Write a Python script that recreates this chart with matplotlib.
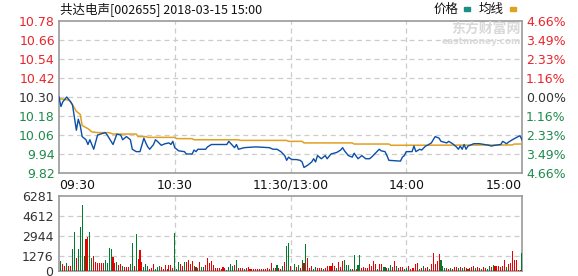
import matplotlib
matplotlib.use("Agg")
import matplotlib.pyplot as plt
import numpy as np
import math

plt.rcParams['font.family'] = ['DejaVu Sans']

# ---------------- data ----------------
title = "共达电声[002655] 2018-03-15 15:00"
prev_close = 10.30
price_ticks = [10.78, 10.66, 10.54, 10.42, 10.30, 10.18, 10.06, 9.94, 9.82]
vol_ticks = [0, 1276, 2944, 4612, 6281]
time_labels = ["09:30", "10:30", "11:30/13:00", "14:00", "15:00"]
time_label_minutes = [0, 60, 120, 180, 240]

price_min = [0, 1, 2, 3, 4, 6, 7, 9, 10, 11, 12, 14, 15, 16, 18, 20, 24, 25, 28, 30,
             32, 33, 35, 37, 38, 40, 42, 44, 45, 46, 47, 49, 50, 51, 53, 55, 57, 58, 59, 60,
             62, 65, 66, 69, 70, 71, 72, 76, 77, 79, 87, 88, 91, 92, 93, 96, 102, 109, 111, 113,
             115, 117, 118, 119, 120, 121, 123, 125, 126, 127, 129, 131, 132, 133, 134, 136, 138, 139, 141, 144,
             146, 147, 148, 150, 152, 153, 155, 157, 159, 161, 162, 164, 166, 167, 169, 170, 171, 177, 178, 179,
             180, 183, 184, 185, 187, 188, 190, 191, 193, 195, 197, 198, 201, 202, 204, 206, 207, 208, 209, 210,
             211, 212, 213, 215, 218, 223, 224, 226, 229, 230, 232, 233, 235, 238, 239, 240]
price_val = [10.30, 10.24, 10.27, 10.285, 10.30, 10.27, 10.25, 10.09, 10.16, 10.12, 10.05, 10.03, 10.00, 10.03, 9.97, 10.06, 10.075, 10.06, 10.00, 10.065,
             10.06, 10.03, 10.05, 10.03, 9.97, 9.955, 9.955, 10.04, 10.01, 9.985, 9.97, 10.00, 10.03, 10.02, 9.995, 10.005, 10.01, 10.00, 10.02, 9.98,
             9.96, 9.955, 9.94, 9.94, 9.965, 9.955, 9.97, 9.97, 9.985, 10.00, 10.00, 10.02, 9.98, 10.00, 9.97, 9.98, 9.985, 9.98, 9.97, 9.97,
             9.955, 9.93, 9.90, 9.92, 9.91, 9.905, 9.905, 9.90, 9.89, 9.855, 9.87, 9.89, 9.91, 9.89, 9.93, 9.91, 9.93, 9.91, 9.94, 9.95,
             9.965, 9.98, 9.96, 9.93, 9.92, 9.945, 9.91, 9.93, 9.91, 9.91, 9.92, 9.945, 9.97, 9.96, 9.955, 9.93, 9.90, 9.895, 9.92, 9.93,
             9.955, 9.955, 9.99, 9.955, 9.97, 9.965, 9.99, 9.995, 10.01, 10.05, 10.04, 10.02, 10.01, 10.02, 10.005, 9.985, 9.97, 9.99, 9.97, 10.00,
             9.97, 9.99, 9.995, 10.005, 10.005, 9.995, 9.99, 9.995, 10.00, 10.02, 10.005, 10.015, 10.03, 10.05, 10.055, 10.03]

avg_min = [0, 5, 6, 9, 11, 12, 15, 17, 20, 26, 28, 40, 41, 45, 46, 60, 61, 69, 70, 93,
           94, 118, 119, 126, 127, 152, 153, 171, 172, 235, 236, 240]
avg_val = [10.29, 10.28, 10.27, 10.21, 10.19, 10.12, 10.10, 10.08, 10.075, 10.075, 10.066, 10.066, 10.05, 10.05, 10.045, 10.045, 10.037, 10.037, 10.03, 10.03,
           10.026, 10.026, 10.02, 10.02, 10.01, 10.01, 10.003, 10.003, 9.995, 9.997, 10.003, 10.003]

# volume per minute (1..240)
vol = [837, 586, 419, 642, 419, 419, 1841, 3292, 1088, 1841, 3711, 5524, 1256, 2678, 2874, 3292, 1088, 1256, 781, 642,
       642, 698, 642, 921, 642, 1953, 1841, 1200, 698, 781, 502, 586, 419, 363, 363, 363, 586, 2316, 419, 3069,
       1004, 1758, 781, 307, 586, 419, 140, 223, 586, 140, 363, 419, 307, 140, 502, 140, 502, 502, 223, 3153,
       140, 781, 586, 419, 781, 781, 921, 586, 865, 419, 307, 223, 781, 363, 307, 502, 1060, 642, 865, 502,
       223, 223, 223, 140, 307, 223, 84, 307, 586, 419, 502, 921, 223, 223, 223, 140, 223, 307, 140, 140,
       140, 140, 140, 140, 140, 140, 140, 223, 195, 642, 223, 223, 502, 223, 140, 419, 781, 2093, 2372, 419,
       60, 586, 307, 502, 223,
       921, 642, 2260, 1088, 223, 419, 140, 307, 223, 223, 223, 140, 223, 419, 419, 419, 698, 419, 223, 781,
       307, 865, 921, 502, 502, 140, 140, 1339, 140, 502, 1339, 223, 307, 223, 223, 586, 419, 865, 586, 140,
       586, 586, 307, 307, 223, 223, 502, 307, 837, 419, 223, 307, 307, 140, 223, 419, 140, 223, 223, 586,
       642, 140, 223, 419, 223, 307, 140, 586, 1479, 586, 837, 1423, 921, 419, 223, 223, 140, 223, 140, 307,
       307, 223, 307, 223, 307, 223, 140, 223, 307, 419, 223, 307, 223, 140, 307, 223, 140, 419, 307, 502,
       419, 419, 419, 307, 419, 921, 307, 586, 642, 1674, 921, 921, 84, 84, 1535]
# 'r' = up minute, 'g' = down minute
vol_dir = ("grrgrrggrg" "gggrrggrrr" "rrrggggrrg" "rrgrrrggrg" "rrrgggrrrg"
           "ggrrrrrrrg" "ggrrgrrrrg" "rgrggrrrrr" "rrrrrrgggg" "rgrrrgrrrr"
           "rrrrrrrrrr" "grgrrgrggr" "ggrgr"
           "grgrrrggrr" "rgrrrrrrgr" "rrggggrgrg" "grrrrrrrrg" "rrggrggrrg"
           "rrrggrrrrr" "rgrgrrgrrr" "rrgggrrgrr" "rgrgrrgrrr" "grrgrrggrg"
           "rrrrrrgrrr" "rrrrg")

# ---------------- figure ----------------
W, H = 578, 276
fig = plt.figure(figsize=(W / 100, H / 100), dpi=100)
fig.patch.set_facecolor("white")

L, R = 59 / W, 522 / W
ax = fig.add_axes([L, 1 - 173 / H, R - L, (173 - 21) / H])
axv = fig.add_axes([L, 1 - 271 / H, R - L, (271 - 196) / H])

spine_c = "#999999"
grid_c = "#cccccc"
red_t = "#e8262b"
green_t = "#1f8a4c"
line_blue = "#0a4fa8"
avg_gold = "#e0a020"

for a in (ax, axv):
    for s in a.spines.values():
        s.set_color(spine_c)
        s.set_linewidth(1.2)
    a.set_xlim(0, 240)
    a.tick_params(length=0)
    for m in [60, 120, 180]:
        a.axvline(m, color=grid_c, lw=0.9, ls=(0, (4, 3)), zorder=0)


def tick_color(p):
    if p > prev_close + 1e-9:
        return red_t
    if p < prev_close - 1e-9:
        return green_t
    return "#333333"


# price panel
ax.set_ylim(price_ticks[-1], price_ticks[0])
ax.set_yticks(price_ticks)
ax.set_yticklabels([f"{p:.2f}" for p in price_ticks], fontsize=9)
for lab, p in zip(ax.get_yticklabels(), price_ticks):
    lab.set_color(tick_color(p))
ax.tick_params(axis="y", pad=3)
for p in price_ticks[1:-1]:
    ax.axhline(p, color=grid_c, lw=0.9, ls=(0, (4, 3)), zorder=0)
ax.plot(avg_min, avg_val, color=avg_gold, lw=1.1, zorder=3)
ax.plot(price_min, price_val, color=line_blue, lw=1.0, zorder=4)

ax.set_xticks(time_label_minutes)
ax.set_xticklabels(time_labels, fontsize=9, color="#111111")
ax.tick_params(axis="x", pad=4)
xl = ax.get_xticklabels()
xl[0].set_horizontalalignment("left")
xl[-1].set_horizontalalignment("right")

axr = ax.twinx()
axr.set_ylim(ax.get_ylim())
axr.set_yticks(price_ticks)
pct = [math.floor(abs(p - prev_close) / prev_close * 10000 + 1e-6) / 100 for p in price_ticks]
axr.set_yticklabels([f"{v:.2f}%" for v in pct], fontsize=9)
for lab, p in zip(axr.get_yticklabels(), price_ticks):
    lab.set_color(tick_color(p))
axr.tick_params(length=0, pad=3)
for s in axr.spines.values():
    s.set_visible(False)

# volume panel
minutes = np.arange(1, len(vol) + 1)
colors = ["#e60000" if d == "r" else "#007a2e" for d in vol_dir[:len(vol)]]
axv.bar(minutes, vol, width=0.55, color=colors, zorder=3)
axv.set_ylim(0, vol_ticks[-1])
axv.set_yticks(vol_ticks)
axv.set_yticklabels([str(v) for v in vol_ticks], fontsize=9, color="#333333")
axv.tick_params(axis="y", pad=4)
axv.set_xticks([])
for v in vol_ticks[1:-1]:
    axv.axhline(v, color=grid_c, lw=0.9, ls=(0, (4, 3)), zorder=0)

# header texts
cjk = ["Noto Sans CJK SC", "DejaVu Sans"]
fig.text(60 / W, 1 - 9 / H, title, fontsize=9, va="center", ha="left", family=cjk, color="#111111")
fig.text(434 / W, 1 - 9 / H, "价格", fontsize=9, va="center", ha="left", family=cjk, color="#111111")
fig.patches.append(plt.Rectangle((464 / W, 1 - 11 / H), 6 / W, 4 / H, transform=fig.transFigure,
                                 color="#1a9085", figure=fig))
fig.text(479 / W, 1 - 9 / H, "均线", fontsize=9, va="center", ha="left", family=cjk, color="#111111")
fig.patches.append(plt.Rectangle((510 / W, 1 - 11 / H), 6 / W, 4 / H, transform=fig.transFigure,
                                 color="#e0a020", figure=fig))

# watermark
fig.text(521 / W, 1 - 29 / H, "东方财富网", fontsize=10, va="center", ha="right", weight="bold",
         family=cjk, color="#d9d9d9", zorder=0)
fig.text(521 / W, 1 - 41.5 / H, "eastmoney.com", fontsize=6.5, va="center", ha="right", weight="bold",
         color="#d9d9d9", zorder=0)

fig.savefig("out.png", dpi=100)
